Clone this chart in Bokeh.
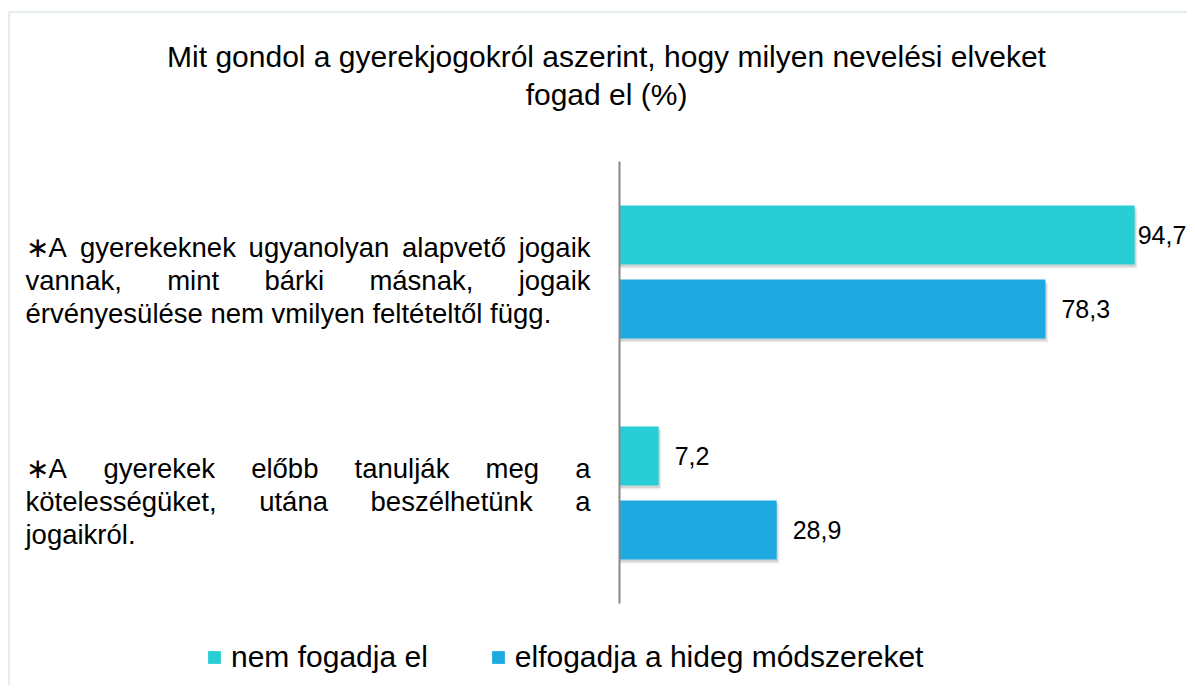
from bokeh.plotting import figure
from bokeh.models import Range1d, Legend, LegendItem
from bokeh.core.properties import value
from bokeh.embed import file_html
from bokeh.resources import INLINE

# ---------------- data ----------------
title_lines = ["Mit gondol a gyerekjogokról aszerint, hogy milyen nevelési elveket",
               "fogad el (%)"]
categories = [
    "∗A gyerekeknek ugyanolyan alapvető jogaik vannak, mint bárki másnak, jogaik érvényesülése nem vmilyen feltételtől függ.",
    "∗A gyerekek előbb tanulják meg a kötelességüket, utána beszélhetünk a jogaikról.",
]
series_names = ["nem fogadja el", "elfogadja a hideg módszereket"]
nem_fogadja_el = [94.7, 7.2]
elfogadja_hideg = [78.3, 28.9]
series_values = [nem_fogadja_el, elfogadja_hideg]
series_colors = ["#29CDD6", "#1EAAE1"]

# ---------------- layout constants ----------------
W, H = 1187, 685
AXIS_PX = 619.0       # canvas x of value 0
PX_PER_UNIT = 5.44    # pixels per percent
G0_PX = 271.5         # canvas y of first category centre
BAND_PX = 221.0       # category band height in px
FONT = "Liberation Sans"


def X(px):
    return (px - AXIS_PX) / PX_PER_UNIT


def Y(py):
    return (py - G0_PX) / BAND_PX


# Arial / Liberation Sans advance widths (per 1000 em)
ADV = {' ': 278, '*': 389, '∗': 850, 'A': 667, 'a': 556, 'á': 556, 'b': 556, 'c': 500,
       'd': 556, 'e': 556, 'é': 556, 'f': 278, 'g': 556, 'h': 556, 'i': 222, 'j': 222,
       'k': 500, 'l': 222, 'm': 833, 'n': 556, 'o': 556, 'ó': 556, 'ö': 556, 'ő': 556,
       'p': 556, 'r': 333, 's': 500, 't': 278, 'u': 556, 'ü': 556, 'ű': 556, 'v': 500,
       'y': 500, 'z': 500, ',': 278, '.': 278}


def tw(s, size):
    return sum(ADV.get(c, 556) for c in s) * size / 1000.0


p = figure(width=W, height=H, output_backend="svg", toolbar_location=None,
           x_range=Range1d(X(0), X(W)), y_range=Range1d(start=Y(H), end=Y(0)),
           x_axis_type=None, y_axis_type=None, min_border=0)
p.outline_line_color = None
p.xgrid.visible = False
p.ygrid.visible = False
p.background_fill_color = "white"
p.border_fill_color = "white"

# chart-area border (only left and top edges fall inside the picture)
p.segment(x0=[X(8.5), X(8.5)], y0=[Y(11.5), Y(11.5)], x1=[X(8.5), X(W + 30)], y1=[Y(H + 30), Y(11.5)],
          line_color="#dce6e6", line_width=1.5)

# title
TITLE_SIZE = 30
p.text(x=[X(606)] * len(title_lines), y=[Y(56), Y(94)][:len(title_lines)], text=title_lines,
       text_align="center", text_baseline="alphabetic",
       text_font=value(FONT), text_font_size=f"{TITLE_SIZE}px", text_color="black")

# category labels, justified
LABEL_SIZE = 27.5
LEFT, RIGHT = 25.0, 590.0
LINE_H = 32.6
lx, ly, lt = [], [], []
rx, ry, rt = [], [], []
for i, cat in enumerate(categories):
    words = cat.split()
    lines, cur = [], []
    for w in words:
        trial = cur + [w]
        if cur and tw(" ".join(trial), LABEL_SIZE) > RIGHT - LEFT:
            lines.append(cur)
            cur = [w]
        else:
            cur = trial
    lines.append(cur)
    n = len(lines)
    mid_base = G0_PX + i * BAND_PX + 8.5
    for li, ln in enumerate(lines):
        base = mid_base + (li - (n - 1) / 2.0) * LINE_H
        widths = [tw(w, LABEL_SIZE) for w in ln]
        last = (li == n - 1)
        if last or len(ln) == 1:
            gap = tw(" ", LABEL_SIZE)
        else:
            gap = (RIGHT - LEFT - sum(widths)) / (len(ln) - 1)
        x = LEFT
        for wi, (w, wd) in enumerate(zip(ln, widths)):
            if (not last) and len(ln) > 1 and wi == len(ln) - 1:
                rx.append(X(RIGHT)); ry.append(Y(base)); rt.append(w)
            else:
                lx.append(X(x)); ly.append(Y(base)); lt.append(w)
            x += wd + gap

p.text(x=lx, y=ly, text=lt, text_align="left", text_baseline="alphabetic",
       text_font=value(FONT), text_font_size=f"{LABEL_SIZE}px", text_color="black")
p.text(x=rx, y=ry, text=rt, text_align="right", text_baseline="alphabetic",
       text_font=value(FONT), text_font_size=f"{LABEL_SIZE}px", text_color="black")

# bars
OFF = 37.0 / BAND_PX
BAR_H = 59.0 / BAND_PX
bar_renderers = []
for s, (name, vals, col) in enumerate(zip(series_names, series_values, series_colors)):
    ys = [i + (2 * s - 1) * OFF for i in range(len(categories))]
    # soft drop shadow
    p.hbar(y=[y + 4.0 / BAND_PX for y in ys], left=0, right=[v + 2.5 / PX_PER_UNIT for v in vals],
           height=BAR_H, fill_color="black", fill_alpha=0.07, line_color=None)
    p.hbar(y=[y + 2.5 / BAND_PX for y in ys], left=0, right=[v + 1.5 / PX_PER_UNIT for v in vals],
           height=BAR_H, fill_color="black", fill_alpha=0.10, line_color=None)
    r = p.hbar(y=ys, left=0, right=vals, height=BAR_H, fill_color=col, line_color=None)
    bar_renderers.append(r)
    labels = [f"{v:.1f}".replace(".", ",") for v in vals]
    offs = [3 if v > 90 else 16 for v in vals]
    p.text(x=vals, y=ys, text=labels, x_offset=offs, text_align="left",
           text_baseline="middle", text_font=value(FONT), text_font_size="25px",
           text_color="black")

# vertical axis line
p.segment(x0=[0], y0=[-0.5], x1=[0], y1=[len(categories) - 0.5],
          line_color="#888888", line_width=2)

legend = Legend(items=[LegendItem(label=n, renderers=[r]) for n, r in zip(series_names, bar_renderers)],
                orientation="horizontal", location=(206, 11),
                glyph_width=16, glyph_height=16, label_standoff=9, spacing=62,
                padding=0, margin=0, border_line_color=None, background_fill_alpha=0,
                label_text_font=FONT, label_text_font_size="30px", label_text_color="black")
p.add_layout(legend)

open("out.html", "w").write(file_html(p, INLINE))
